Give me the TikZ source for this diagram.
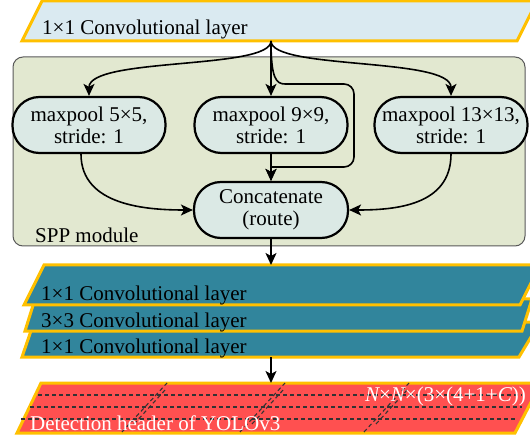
\documentclass[tikz,border=0pt]{standalone}
\usepackage{fontspec}
\setmainfont{Liberation Serif}
\usetikzlibrary{arrows.meta}
\definecolor{orng}{HTML}{FFC000}
\definecolor{lblue}{HTML}{DAEAF1}
\definecolor{tealL}{HTML}{31859C}
\definecolor{redh}{HTML}{FF5050}
\definecolor{sppfill}{HTML}{E2E8D0}
\definecolor{nodefill}{HTML}{DBE9E5}
\tikzset{
 layer/.style={draw=orng, line width=3pt, line join=miter},
 lbl/.style={font=\fontsize{21}{23}\selectfont, inner sep=0pt, anchor=base west},
 pool/.style={draw=black, line width=2.2pt, fill=nodefill, rounded corners=27pt,
   minimum width=153pt, minimum height=56pt, align=center,
   font=\fontsize{21}{22}\selectfont, inner sep=0pt},
 conn/.style={line width=1.6pt, -{Stealth[length=12pt,width=11pt,inset=3pt]}},
 plainline/.style={line width=1.6pt},
 gridline/.style={dash pattern=on 4pt off 3pt, line width=1.1pt, draw=black!80},
}
\begin{document}
\begin{tikzpicture}[x=1pt,y=-1pt]
\useasboundingbox (0,0) rectangle (530,438);
% SPP module box
\draw[fill=sppfill, draw=gray!70!black, line width=1pt, rounded corners=10pt] (13,57) rectangle (525,246);
\node[lbl] (spp) at (35,243) {SPP module};
% top layer
\draw[layer, fill=lblue] (22,41) -- (42,1) -- (537,1) -- (517,41) -- cycle;
\node[lbl] (ttop) at (42,35) {1×1 Convolutional layer};
\coordinate (topout) at (271,41);
% pooling nodes
\node[pool] (p1) at (89,125) {maxpool 5×5,\\stride: 1};
\node[pool] (p2) at (271,125) {maxpool 9×9,\\stride: 1};
\node[pool] (p3) at (451,125) {maxpool 13×13,\\stride: 1};
\node[pool, minimum width=154pt] (cat) at (271,210) {Concatenate\\(route)};
% connectors
\draw[conn] (topout) .. controls +(0,29) and +(0,-39) .. (p1.north);
\draw[conn] (topout) -- (p2.north);
\draw[conn] (topout) .. controls +(0,29) and +(0,-39) .. (p3.north);
\coordinate (r1) at (295,84);
\coordinate (r2) at (354,84);
\coordinate (r3) at (354,167);
\coordinate (r4) at (271,167);
\draw[plainline, rounded corners=10pt] (topout) .. controls (271,78) and (276,84) .. (r1) -- (r2) -- (r3) -- (r4);
\draw[conn] (r4) -- (cat.north);
\draw[conn] (p2.south) -- (cat.north);
\draw[conn] ([xshift=-8pt]p1.south) .. controls +(0,52) and +(-45,0) .. (cat.west);
\draw[conn] (p3.south) .. controls +(0,52) and +(45,0) .. (cat.east);
% teal stack
\draw[layer, fill=tealL] (22,357) -- (34,322) -- (540,322) -- (519,357) -- cycle;
\draw[layer, fill=tealL] (25,331) -- (35,299) -- (532,299) -- (522,331) -- cycle;
\draw[layer, fill=tealL] (24,305) -- (44,265) -- (540,265) -- (520,305) -- cycle;
\node[lbl] (tA) at (41,301) {1×1 Convolutional layer};
\node[lbl] (tB) at (41,327) {3×3 Convolutional layer};
\node[lbl] (tC) at (41,353) {1×1 Convolutional layer};
\coordinate (atop) at (271,265);
\coordinate (cbot) at (271,357);
\draw[conn] (cat.south) -- (atop);
% detection header
\draw[layer, fill=redh] (17,433) -- (41,383) -- (541,383) -- (515,433) -- cycle;
\coordinate (dtop) at (271,383);
\draw[conn] (cbot) -- (dtop);
\draw[gridline] (38,395) -- (522,395);
\draw[gridline] (30,407) -- (522,407);
\draw[gridline] (21,419) -- (515,419);
\foreach \x in {122,240,364}{
  \draw[gridline] (\x,432) -- (\x+45,383);
  \draw[gridline] (\x+12,424) -- (\x+44,389);
}
\node[lbl, text=white] (det) at (30,430) {Detection header of YOLOv3};
\node[font=\fontsize{21}{23}\selectfont, inner sep=0pt, anchor=base east, text=white] (dim) at (526,401)
  {{\itshape N}×{\itshape N}×(3×(4+1+{\itshape C}))};
\end{tikzpicture}
\end{document}
